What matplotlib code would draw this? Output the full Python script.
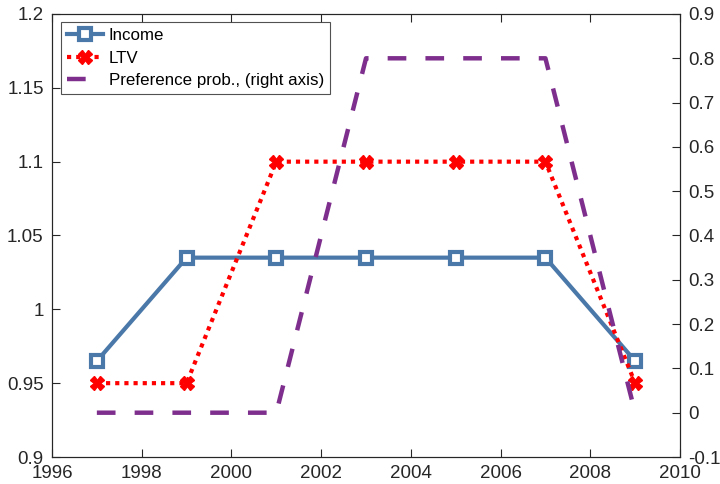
import matplotlib
matplotlib.use("Agg")
import matplotlib.pyplot as plt

years = [1997, 1999, 2001, 2003, 2005, 2007, 2009]
income = [0.965, 1.035, 1.035, 1.035, 1.035, 1.035, 0.965]
ltv = [0.95, 0.95, 1.1, 1.1, 1.1, 1.1, 0.95]
pref = [0, 0, 0, 0.8, 0.8, 0.8, 0]

plt.rcParams['font.family'] = ['Liberation Sans', 'DejaVu Sans']

fig = plt.figure(figsize=(7.2, 4.84), dpi=100)
ax = fig.add_axes([52/720, 1-457/484, (680-52)/720, (457-14)/484])
ax2 = ax.twinx()

c_inc = '#4A78A9'
c_ltv = '#FF0000'
c_pref = '#7E2F8E'

l1, = ax.plot(years, income, color=c_inc, lw=3.0, marker='s', ms=9,
              mfc='white', mec=c_inc, mew=3.0, label='Income', zorder=3)
l2, = ax.plot(years, ltv, color=c_ltv, lw=3.0, ls=(0, (1, 1.2)), marker='X', ms=10,
              mfc=c_ltv, mec=c_ltv, label='LTV', zorder=3)
l3, = ax2.plot(years, pref, color=c_pref, lw=3.2, ls=(0, (4.2, 4.3)),
               label='Preference prob., (right axis)')

ax.set_xlim(1996, 2010)
ax.set_ylim(0.9, 1.2)
ax2.set_ylim(-0.1, 0.9)
ax.set_xticks(range(1996, 2011, 2))
ax.set_yticks([0.9, 0.95, 1.0, 1.05, 1.1, 1.15, 1.2])
ax.set_yticklabels(['0.9', '0.95', '1', '1.05', '1.1', '1.15', '1.2'])
ax2.set_yticks([-0.1, 0, 0.1, 0.2, 0.3, 0.4, 0.5, 0.6, 0.7, 0.8, 0.9])
ax2.set_yticklabels(['-0.1', '0', '0.1', '0.2', '0.3', '0.4', '0.5', '0.6', '0.7', '0.8', '0.9'])

for a in (ax, ax2):
    a.tick_params(direction='in', length=6, width=0.8, colors='#262626', labelsize=13.5, pad=6)
    for s in a.spines.values():
        s.set_color('#262626')
        s.set_linewidth(0.8)
ax.tick_params(top=True)

leg = ax.legend(handles=[l1, l2, l3], loc='upper left', bbox_to_anchor=(0.015, 0.982),
                fontsize=12.2, frameon=True, fancybox=False, edgecolor='#262626',
                handlelength=2.1, handletextpad=0.35, borderpad=0.35, labelspacing=0.45,
                borderaxespad=0.0)
leg.get_frame().set_linewidth(0.8)

fig.savefig('out.png', dpi=100)
